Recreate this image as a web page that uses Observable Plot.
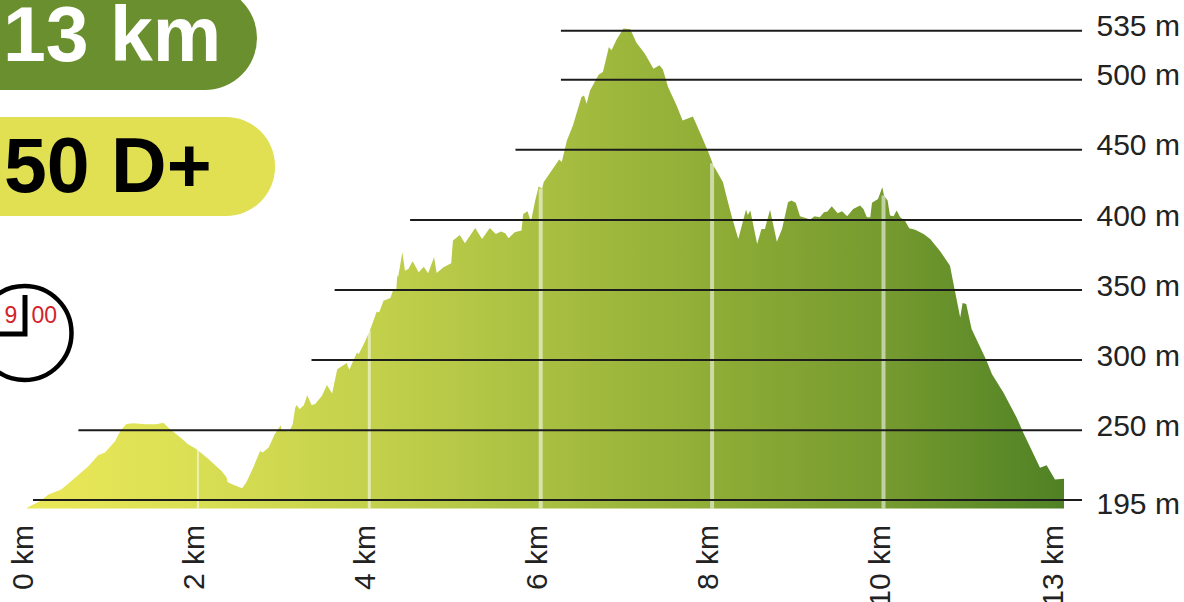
<!DOCTYPE html>
<html>
<head>
<meta charset="utf-8">
<script src="https://cdn.jsdelivr.net/npm/d3@7"></script>
<script src="https://cdn.jsdelivr.net/npm/@observablehq/plot@0.6"></script>
<style>
html,body{margin:0;padding:0;background:#fff;overflow:hidden;width:1184px;height:602px;font-family:"Liberation Sans",Arial,sans-serif}
#wrap{position:relative;width:1184px;height:602px;overflow:hidden}
#chart{position:absolute;left:0;top:0}
.pill{position:absolute;font-weight:bold;line-height:1;white-space:nowrap}
#dist{left:-60px;top:-14px;width:316.5px;height:103.5px;border-radius:0 52px 52px 0;background:#6a8f2e;color:#fff}
#dist span{position:absolute;left:63px;top:10px;font-size:77px}
#climb{left:-60px;top:117px;width:335px;height:98.5px;border-radius:0 49px 49px 0;background:#e0e052;color:#000}
#climb span{position:absolute;left:64px;top:10px;font-size:77px}
#clock{position:absolute;left:0;top:280px}
</style>
</head>
<body>
<div id="wrap">
<div id="chart"></div>
<div id="dist" class="pill"><span>13 km</span></div>
<div id="climb" class="pill"><span>50 D+</span></div>
<svg id="clock" width="80" height="110" viewBox="0 280 80 110">
  <circle cx="24.5" cy="333" r="47" fill="none" stroke="#000" stroke-width="4.5"/>
  <path d="M25 295V334H0" fill="none" stroke="#000" stroke-width="5"/>
  <text x="4.5" y="323" font-size="23" fill="#d2232a" font-family="Liberation Sans">9</text>
  <text x="31.5" y="323" font-size="23" fill="#d2232a" font-family="Liberation Sans">00</text>
</svg>
</div>
<script>
const km = [0,.15,.25,.40,.50,.72,.83,.91,1.03,1.09,1.16,1.24,1.38,1.51,1.59,1.67,1.79,1.88,1.98,2.12,2.27,2.33,2.34,2.40,2.51,2.56,2.64,2.72,2.75,2.82,2.89,2.96,2.97,3.06,3.10,3.13,3.15,3.18,3.23,3.27,3.32,3.36,3.44,3.50,3.56,3.62,3.73,3.76,3.85,3.87,3.94,4.00,4.08,4.11,4.16,4.24,4.27,4.31,4.32,4.33,4.38,4.41,4.45,4.50,4.57,4.63,4.68,4.75,4.78,4.86,4.95,4.97,5.05,5.11,5.23,5.31,5.40,5.47,5.53,5.58,5.62,5.69,5.77,5.79,5.84,5.88,5.93,5.97,6.01,6.03,6.10,6.21,6.24,6.30,6.37,6.47,6.50,6.53,6.57,6.67,6.72,6.79,6.82,6.88,6.96,7.04,7.11,7.21,7.31,7.38,7.42,7.48,7.58,7.65,7.77,7.85,7.95,8.01,8.12,8.17,8.22,8.30,8.39,8.41,8.44,8.52,8.57,8.61,8.67,8.75,8.81,8.88,8.92,8.97,9.02,9.14,9.19,9.25,9.30,9.34,9.39,9.46,9.51,9.57,9.64,9.72,9.76,9.80,9.84,9.86,9.93,9.98,10.0,10.06,10.10,10.16,10.21,10.27,10.35,10.42,10.52,10.66,10.77,10.93,11.10,11.17,11.27,11.31,11.37,11.46,11.71,11.80,11.99,12.21,12.32,12.60,12.71,12.85,13.0];
const elevation = [188.5,193.7,199,202.9,208.5,221.4,229.8,232,241.1,249.1,254.1,254.6,253.9,253.9,254.9,250.4,243.8,238.5,234.6,226.7,217.4,212.4,208.7,206.9,203.9,208.5,220.3,233.2,232,235.9,246.4,253.2,249.8,248.6,253.9,265.9,267.7,264.6,267.5,274.6,267.7,268.2,274.1,281.8,275.9,293.2,297.5,292.7,305.1,303.9,312.3,320.6,334.1,333.7,342,343.9,349.1,350.4,360.4,358.7,376.6,363.4,364.6,370.1,362.3,366.3,361.6,373,361.8,365.9,368.7,384.9,388.9,383,393.9,386.1,393.9,389.6,391.3,390.1,386.6,390.9,392,403.9,405.9,398.4,413.4,423.4,421.8,426.6,433,442.7,440.9,456.3,467,487.3,488.4,482.5,492,503.2,505.1,523,520.6,528.4,536.1,535.6,526.1,518.2,507.5,509.9,507,494.4,481.3,470.6,473.4,462.3,448,438.4,426.6,414.6,402.7,386.1,407,403.2,406.3,382.5,393.2,393.2,406.8,384.1,393.2,412.3,413.4,411.8,402.3,399.9,402.3,401.6,405.1,405.6,409.4,404.4,405.9,402.3,407.5,409.9,407.5,401.6,401.6,411.8,414.6,423,417,413.4,402.7,402.3,406.3,401.6,399.1,393.7,392.7,389.6,386.1,377.7,367,351.6,330.1,340.4,339.6,321.8,299.1,289.6,276.6,258.7,247.8,220.1,221.9,210.8,211.4];

const profile = km.map((d, i) => ({km: d, m: elevation[i]}));

const baseElevation = 188;
const levels = [195, 250, 300, 350, 400, 450, 500, 535];
const levelLabelsUpper = [250, 300, 350, 400, 450, 500, 535];
const levelLabelsLower = [195];
const levelStartKm = [0.07, 0.60, 3.32, 3.59, 4.47, 5.70, 6.23, 6.23];
const rules = levels.map((m, i) => ({m, start: levelStartKm[i]}));
const axisEndKm = 13.3;

const kmTicks = [2, 4, 6, 8, 10];
const kmTickTops = [234.6, 320.6, 421.8, 440, 417];
const kmTickWidths = [2, 3, 4, 4, 4];
const kmLines = kmTicks.map((k, i) => ({k, top: kmTickTops[i], w: kmTickWidths[i]}));
const kmLabels = [0, 2, 4, 6, 8, 10];
const kmLastLabel = [13];

const gradientOffsets = [0, .15, .36, .5, .66, .83, 1];
const gradientColors = ["#ebe858", "#dbe054", "#bfce4a", "#a8bf41", "#8fad36", "#759a2f", "#4f8124"];

function gradientDefs() {
  const defs = d3.create("svg:defs");
  const g = defs.append("linearGradient").attr("id", "elev");
  gradientOffsets.forEach((o, i) =>
    g.append("stop").attr("offset", o).attr("stop-color", gradientColors[i]));
  return defs.node();
}

const kmAxis = {anchor: "bottom", label: null, tickSize: 0, tickPadding: 16, tickRotate: -90, fontSize: 30, fill: "#222", tickFormat: d => d + " km"};
const mAxis = {anchor: "right", label: null, tickSize: 0, tickPadding: 14, fontSize: 30, fill: "#222", tickFormat: d => d + " m"};

const chart = Plot.plot({
  width: 1184,
  height: 602,
  marginLeft: 0,
  marginTop: 0,
  marginRight: 102,
  marginBottom: 93.5,
  style: {fontFamily: "Liberation Sans", background: "transparent", color: "#222"},
  x: {type: "linear", domain: [0, 10, 13, axisEndKm], range: [27, 884, 1064, 1082]},
  y: {type: "linear", domain: [baseElevation, 195, 250, 556.5], range: [508.5, 499.5, 429.7, 0]},
  marks: [
    gradientDefs,
    Plot.areaY(profile, {x: "km", y1: () => baseElevation, y2: "m", fill: "url(#elev)"}),
    Plot.ruleX(kmLines, {x: "k", y1: () => baseElevation, y2: "top", stroke: "#fff", strokeOpacity: 0.55, strokeWidth: "w", dx: -1}),
    Plot.ruleY(rules, {y: "m", x1: "start", x2: () => axisEndKm, stroke: "#1c1c1c", strokeWidth: 2}),
    Plot.axisY(levelLabelsUpper, {...mAxis, dy: -4}),
    Plot.axisY(levelLabelsLower, {...mAxis, dy: 4}),
    Plot.axisX(kmLabels, {...kmAxis, dx: -4.5}),
    Plot.axisX(kmLastLabel, {...kmAxis, dx: -11.5})
  ]
});
document.getElementById("chart").append(chart);
</script>
</body>
</html>
